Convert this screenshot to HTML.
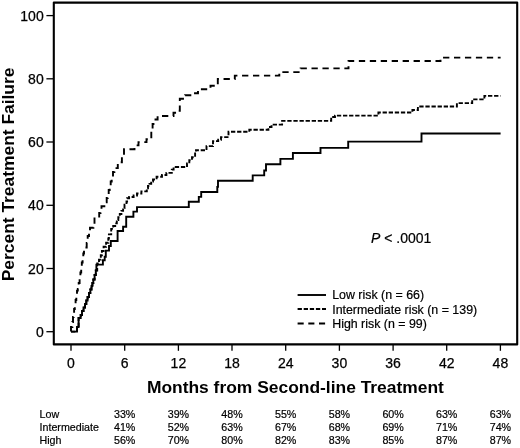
<!DOCTYPE html>
<html><head><meta charset="utf-8"><style>
html,body{margin:0;padding:0;background:#fff;}
body{width:520px;height:448px;overflow:hidden;}
svg{display:block;will-change:transform;}
text{font-family:"Liberation Sans",sans-serif;fill:#000;}
.tk{font-size:14px;stroke:#000;stroke-width:0.25px;}
.ttl{font-size:17px;font-weight:bold;}
.pv{font-size:14px;stroke:#000;stroke-width:0.2px;}
.lg{font-size:12.4px;stroke:#000;stroke-width:0.2px;}
.tb{font-size:10.7px;stroke:#000;stroke-width:0.2px;}
</style></head><body>
<svg width="520" height="448" viewBox="0 0 520 448">
<rect width="520" height="448" fill="#fff"/>
<rect x="53.8" y="2.6" width="463.4" height="341.8" fill="none" stroke="#000" stroke-width="2.1" stroke-linejoin="round"/>
<line x1="46.4" y1="331.7" x2="53" y2="331.7" stroke="#000" stroke-width="1.3"/>
<text x="43.7" y="336.7" text-anchor="end" class="tk">0</text>
<line x1="46.4" y1="268.5" x2="53" y2="268.5" stroke="#000" stroke-width="1.3"/>
<text x="43.7" y="273.5" text-anchor="end" class="tk">20</text>
<line x1="46.4" y1="205.3" x2="53" y2="205.3" stroke="#000" stroke-width="1.3"/>
<text x="43.7" y="210.3" text-anchor="end" class="tk">40</text>
<line x1="46.4" y1="142.0" x2="53" y2="142.0" stroke="#000" stroke-width="1.3"/>
<text x="43.7" y="147.0" text-anchor="end" class="tk">60</text>
<line x1="46.4" y1="78.8" x2="53" y2="78.8" stroke="#000" stroke-width="1.3"/>
<text x="43.7" y="83.8" text-anchor="end" class="tk">80</text>
<line x1="46.4" y1="15.6" x2="53" y2="15.6" stroke="#000" stroke-width="1.3"/>
<text x="43.7" y="20.6" text-anchor="end" class="tk">100</text>
<line x1="71.0" y1="345" x2="71.0" y2="350.8" stroke="#000" stroke-width="1.3"/>
<text x="71.0" y="367.8" text-anchor="middle" class="tk">0</text>
<line x1="124.7" y1="345" x2="124.7" y2="350.8" stroke="#000" stroke-width="1.3"/>
<text x="124.7" y="367.8" text-anchor="middle" class="tk">6</text>
<line x1="178.4" y1="345" x2="178.4" y2="350.8" stroke="#000" stroke-width="1.3"/>
<text x="178.4" y="367.8" text-anchor="middle" class="tk">12</text>
<line x1="232.0" y1="345" x2="232.0" y2="350.8" stroke="#000" stroke-width="1.3"/>
<text x="232.0" y="367.8" text-anchor="middle" class="tk">18</text>
<line x1="285.7" y1="345" x2="285.7" y2="350.8" stroke="#000" stroke-width="1.3"/>
<text x="285.7" y="367.8" text-anchor="middle" class="tk">24</text>
<line x1="339.4" y1="345" x2="339.4" y2="350.8" stroke="#000" stroke-width="1.3"/>
<text x="339.4" y="367.8" text-anchor="middle" class="tk">30</text>
<line x1="393.1" y1="345" x2="393.1" y2="350.8" stroke="#000" stroke-width="1.3"/>
<text x="393.1" y="367.8" text-anchor="middle" class="tk">36</text>
<line x1="446.7" y1="345" x2="446.7" y2="350.8" stroke="#000" stroke-width="1.3"/>
<text x="446.7" y="367.8" text-anchor="middle" class="tk">42</text>
<line x1="500.4" y1="345" x2="500.4" y2="350.8" stroke="#000" stroke-width="1.3"/>
<text x="500.4" y="367.8" text-anchor="middle" class="tk">48</text>
<path d="M71 331.6 H77 V327 H78.6 V318 H80.7 V315 H82 V311 H83.5 V307.5 H85 V304 H86.3 V300.5 H87.6 V297 H89 V293 H90.3 V289.5 H91.5 V286 H92.4 V283 H93.3 V279.5 H94.6 V275 H95.8 V270.5 H96.4 V264.6 H102.9 V260.3 H104.7 V256.7 H105.8 V250.6 H109 V246 H110.8 V241 H117.6 V231 H123.1 V226.7 H126.2 V216.8 H133.4 V211.6 H137 V207.1 H188.8 V201.8 H198.8 V196.9 H201.2 V192 H217.3 V186.9 H218 V180.8 H252.7 V175.4 H264.2 V170.5 H266 V164.3 H280.4 V158.9 H292.9 V153 H320.5 V147.9 H348.2 V141.6 H421.5 V133.5 H500.6" fill="none" stroke="#000" stroke-width="1.9"/>
<path d="M71 331.6 H77 V327 H78.6 V318 H80.7 V315 H82 V311 H83.5 V307.5 H85 V304 H86.3 V300.5 H87.6 V297 H89 V293 H90.3 V289.5 H91.5 V286 H92.4 V283 H93.3 V279.5 H94.6 V275 H95.8 V270.5 H97.2 V263.5 H99 V259.6 H100.8 V255.3 H101.9 V251 H103.6 V246.7 H106.1 V242.8 H108.3 V238.5 H108.9 V234.4 H111.2 V228.9 H113.2 V226 H115.2 V223.4 H116.8 V220 H118.3 V217.2 H119.8 V214 H121.4 V210.9 H123.1 V208 H124.5 V204.7 H126.5 V201.5 H127.1 V198.2 H129.1 V197 H133.6 V195.5 H137 V193.5 H141.4 V191.4 H146.8 V188.4 H148 V186 H149.5 V183.9 H151.2 V181.5 H153 V179.5 H156.6 V176.8 H162 V175 H166.4 V172.9 H171.8 V169.6 H173.6 V167 H187 V163.4 H189.3 V160.2 H192 V157.2 H195.1 V152.2 H196 V150.2 H206.5 V146.1 H213 V141.1 H218.2 V139.7 H221 V137.1 H228.5 V131.7 H249.3 V129.8 H268.4 V127 H271.5 V124.6 H282.1 V120.9 H331.2 V117 H335 V115.6 H378.4 V112.5 H412.4 V110 H417.9 V106.5 H456.9 V103.1 H472.2 V99.4 H484.4 V95.9 H500.6" fill="none" stroke="#000" stroke-width="1.9" stroke-dasharray="4.3 1.8"/>
<path d="M71 331.6 V327 H72.4 V322 H73 V317 H73.6 V313 H74.1 V309 H74.8 V305 H75.6 V300 H76.3 V295 H77 V290.6 H77.8 V289 H78.7 V283 H79.6 V278 H80.4 V272.5 H81.2 V268.5 H81.8 V262.5 H82.6 V259 H83.3 V253.5 H84 V247.5 H86.7 V243 H87.7 V236 H89 V232 H90 V227.7 H93.4 V225.9 H94.5 V216.5 H99.2 V213 H100.5 V210.7 H101.5 V206.3 H105.5 V202.2 H106.7 V198 H107.7 V194.2 H108.7 V190 H109.7 V186.1 H110.7 V181.5 H111.7 V176.8 H113 V172 H114.4 V168.1 H117.8 V162.3 H121.9 V155 H124 V149.2 H134.5 V145.4 H138.5 V142.1 H146.5 V139.3 H151.3 V129 H152.6 V124 H154.4 V119.5 H157.6 V116 H173.5 V112.8 H177.7 V110.8 H179.8 V98.8 H185.1 V95.2 H192.8 V93.3 H198 V89.2 H210.5 V85.8 H217.8 V79 H234.8 V75.6 H279.3 V72.1 H300.6 V68.4 H348.5 V61 H440.5 V57.6 H500.6" fill="none" stroke="#000" stroke-width="1.9" stroke-dasharray="6.3 4.65"/>
<text x="295.4" y="393.3" text-anchor="middle" class="ttl" textLength="297" lengthAdjust="spacingAndGlyphs">Months from Second-line Treatment</text>
<text transform="translate(14.3,174.4) rotate(-90)" x="0" y="0" text-anchor="middle" class="ttl" textLength="213.7" lengthAdjust="spacingAndGlyphs">Percent Treatment Failure</text>
<text x="371" y="243" class="pv"><tspan font-style="italic">P</tspan> &lt; .0001</text>
<line x1="297.6" y1="295.0" x2="326" y2="295.0" stroke="#000" stroke-width="1.9"/>
<text x="332.2" y="299.0" class="lg">Low risk (n = 66)</text>
<line x1="297.6" y1="309.0" x2="326" y2="309.0" stroke="#000" stroke-width="1.9" stroke-dasharray="4.3 1.8"/>
<text x="332.2" y="313.6" class="lg">Intermediate risk (n = 139)</text>
<line x1="297.6" y1="323.5" x2="326" y2="323.5" stroke="#000" stroke-width="1.9" stroke-dasharray="6.1 4.6"/>
<text x="332.2" y="328.2" class="lg">High risk (n = 99)</text>
<text x="39.5" y="418.0" class="tb">Low</text>
<text x="124.7" y="418.0" text-anchor="middle" class="tb">33%</text>
<text x="178.4" y="418.0" text-anchor="middle" class="tb">39%</text>
<text x="232.0" y="418.0" text-anchor="middle" class="tb">48%</text>
<text x="285.7" y="418.0" text-anchor="middle" class="tb">55%</text>
<text x="339.4" y="418.0" text-anchor="middle" class="tb">58%</text>
<text x="393.1" y="418.0" text-anchor="middle" class="tb">60%</text>
<text x="446.7" y="418.0" text-anchor="middle" class="tb">63%</text>
<text x="500.4" y="418.0" text-anchor="middle" class="tb">63%</text>
<text x="39.5" y="431.0" class="tb">Intermediate</text>
<text x="124.7" y="431.0" text-anchor="middle" class="tb">41%</text>
<text x="178.4" y="431.0" text-anchor="middle" class="tb">52%</text>
<text x="232.0" y="431.0" text-anchor="middle" class="tb">63%</text>
<text x="285.7" y="431.0" text-anchor="middle" class="tb">67%</text>
<text x="339.4" y="431.0" text-anchor="middle" class="tb">68%</text>
<text x="393.1" y="431.0" text-anchor="middle" class="tb">69%</text>
<text x="446.7" y="431.0" text-anchor="middle" class="tb">71%</text>
<text x="500.4" y="431.0" text-anchor="middle" class="tb">74%</text>
<text x="39.5" y="444.0" class="tb">High</text>
<text x="124.7" y="444.0" text-anchor="middle" class="tb">56%</text>
<text x="178.4" y="444.0" text-anchor="middle" class="tb">70%</text>
<text x="232.0" y="444.0" text-anchor="middle" class="tb">80%</text>
<text x="285.7" y="444.0" text-anchor="middle" class="tb">82%</text>
<text x="339.4" y="444.0" text-anchor="middle" class="tb">83%</text>
<text x="393.1" y="444.0" text-anchor="middle" class="tb">85%</text>
<text x="446.7" y="444.0" text-anchor="middle" class="tb">87%</text>
<text x="500.4" y="444.0" text-anchor="middle" class="tb">87%</text>
</svg>
</body></html>
